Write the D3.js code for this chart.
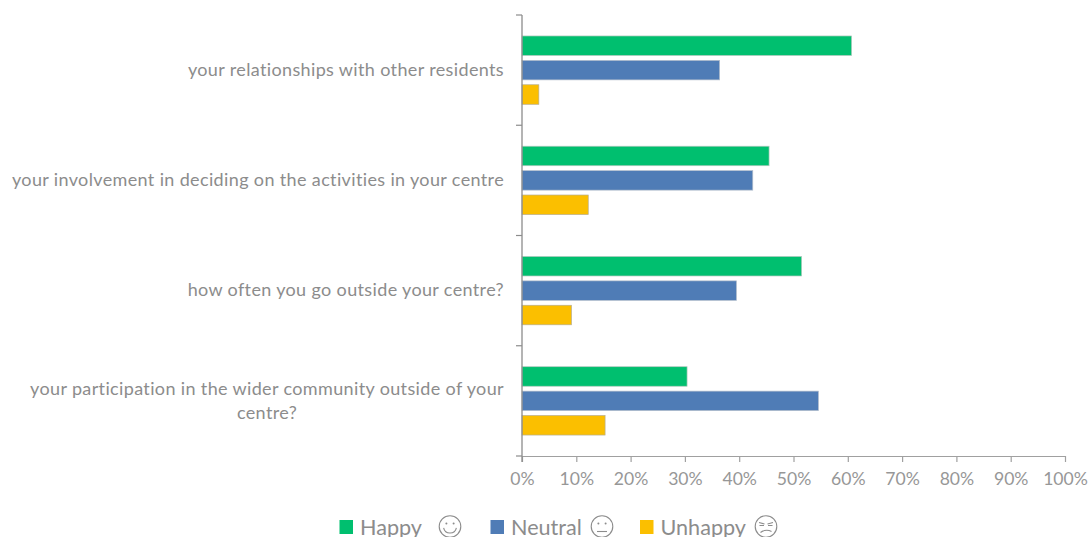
<!DOCTYPE html>
<html>
<head>
<meta charset="utf-8">
<script src="https://cdn.jsdelivr.net/npm/d3@7"></script>
<style>
  html, body { margin: 0; padding: 0; background: #fff; overflow: hidden; }
  text { font-family: Lato, "Open Sans", sans-serif; fill: #8c8c8c; }
</style>
</head>
<body>
<svg id="chart" width="1088" height="537"></svg>
<script>
const questions = [
  ["your relationships with other residents"],
  ["your involvement in deciding on the activities in your centre"],
  ["how often you go outside your centre?"],
  ["your participation in the wider community outside of your", "centre?"]
];
const seriesNames = ["Happy", "Neutral", "Unhappy"];
const seriesColors = ["#00bf6f", "#4f7cb6", "#fbbf00"];
const edgeColors = ["#b4c8bf", "#b5bfcc", "#b5ad90"];
const happy = [60.7, 45.5, 51.5, 30.4];
const neutral = [36.4, 42.5, 39.5, 54.6];
const unhappy = [3.1, 12.2, 9.1, 15.3];
const percentTicks = d3.range(0, 101, 10);

const values = [happy, neutral, unhappy];
const svg = d3.select("#chart");

const x = d3.scaleLinear().domain([0, 100]).range([522, 1065]);
const y = d3.scaleBand().domain(d3.range(questions.length)).range([15, 456]);
const inner = d3.scaleBand().domain(d3.range(seriesNames.length))
  .range([0, y.bandwidth()]).paddingInner(0.2).paddingOuter(0.859);

// Grouped bars
seriesNames.forEach((name, s) => {
  svg.append("g").attr("class", "series-" + name)
    .selectAll("rect").data(values[s]).join("rect")
    .attr("x", x(0))
    .attr("y", (d, i) => y(i) + inner(s))
    .attr("width", d => x(d) - x(0))
    .attr("height", inner.bandwidth())
    .attr("fill", seriesColors[s])
    .attr("stroke", edgeColors[s])
    .attr("stroke-width", 0.7);
});

// Percentage axis along the bottom
const xAxis = svg.append("g").attr("transform", `translate(0,${y.range()[1]})`)
  .call(d3.axisBottom(x).tickValues(percentTicks).tickFormat(d => d + "%").tickSize(6).tickSizeOuter(0));
xAxis.select(".domain").attr("stroke", "#a0a0a0").attr("stroke-width", 1.2);
xAxis.selectAll(".tick line").attr("stroke", "#a0a0a0").attr("stroke-width", 1.2);
xAxis.selectAll(".tick text")
  .attr("y", 17).attr("dy", "0.71em")
  .style("font-family", "Lato, 'Open Sans', sans-serif")
  .style("font-size", "17.6px").style("fill", "#979797");

// Category axis with outward ticks between groups
const yBoundaries = d3.range(questions.length + 1).map(i =>
  i < questions.length ? y(i) : y.range()[1]);
const yAxis = svg.append("g");
yAxis.append("line")
  .attr("x1", x(0)).attr("x2", x(0))
  .attr("y1", y.range()[0]).attr("y2", y.range()[1] + 6)
  .attr("stroke", "#8c8c8c").attr("stroke-width", 1.3);
yAxis.selectAll("line.tick").data(yBoundaries).join("line")
  .attr("class", "tick")
  .attr("x1", x(0) - 6).attr("x2", x(0))
  .attr("y1", d => d).attr("y2", d => d)
  .attr("stroke", "#8c8c8c").attr("stroke-width", 1.2);

// Question labels, centred on the widest line and right-aligned to the axis
const labelRight = 504;
const labels = svg.append("g").selectAll("text").data(questions).join("text")
  .attr("font-size", 18)
  .attr("letter-spacing", 0.36)
  .attr("y", (d, i) => y(i) + y.bandwidth() / 2 - (d.length - 1) * 11.5 + 5.5);
labels.each(function (lines) {
  const sel = d3.select(this);
  lines.forEach((line, k) => {
    sel.append("tspan").text(line)
      .attr("x", labelRight).attr("dy", k ? 24.5 : 0)
      .attr("text-anchor", "end");
  });
  if (lines.length > 1) {
    const width = sel.select("tspan").node().getComputedTextLength();
    sel.selectAll("tspan").filter((d, k) => k > 0)
      .attr("x", labelRight - width / 2).attr("text-anchor", "middle");
  }
});

// Legend with a small line-drawn face next to each entry
const legendEntries = [
  { swatch: 339.5, label: 360, face: 450 },
  { swatch: 490.5, label: 511, face: 602 },
  { swatch: 640, label: 660.5, face: 766 }
];
const legendY = 527;
const faceStroke = "#8c8c8c";
const legend = svg.append("g");
legendEntries.forEach((e, s) => {
  legend.append("rect")
    .attr("x", e.swatch).attr("y", legendY - 7)
    .attr("width", 13.5).attr("height", 14)
    .attr("fill", seriesColors[s]);
  legend.append("text")
    .attr("x", e.label).attr("y", legendY + 8)
    .attr("font-size", 21.6)
    .text(seriesNames[s]);
  const face = legend.append("g")
    .attr("transform", `translate(${e.face},${legendY - 0.5})`)
    .attr("fill", "none").attr("stroke", faceStroke).attr("stroke-width", 1.1);
  face.append("circle").attr("r", 10.8);
  const mouth = d3.path();
  if (s === 0) {
    mouth.arc(0, 0, 6.5, 0.2, Math.PI - 0.2);
  } else if (s === 1) {
    mouth.moveTo(-5, 5); mouth.lineTo(5, 5);
  } else {
    // Flat eyes under slanted brows, with a wavering mouth
    mouth.moveTo(-7, -4); mouth.lineTo(-1.5, -2.5);
    mouth.moveTo(7, -4); mouth.lineTo(1.5, -2.5);
    mouth.moveTo(-6.5, -1); mouth.lineTo(-2, -1);
    mouth.moveTo(6.5, -1); mouth.lineTo(2, -1);
    mouth.moveTo(-5.5, 6); mouth.quadraticCurveTo(0, 2, 5.5, 5);
  }
  face.append("path").attr("d", mouth.toString());
  if (s < 2) {
    [-3.6, 3.6].forEach(dx => {
      face.append("circle").attr("cx", dx).attr("cy", -3)
        .attr("r", 1).attr("fill", faceStroke).attr("stroke", "none");
    });
  }
});
</script>
</body>
</html>
